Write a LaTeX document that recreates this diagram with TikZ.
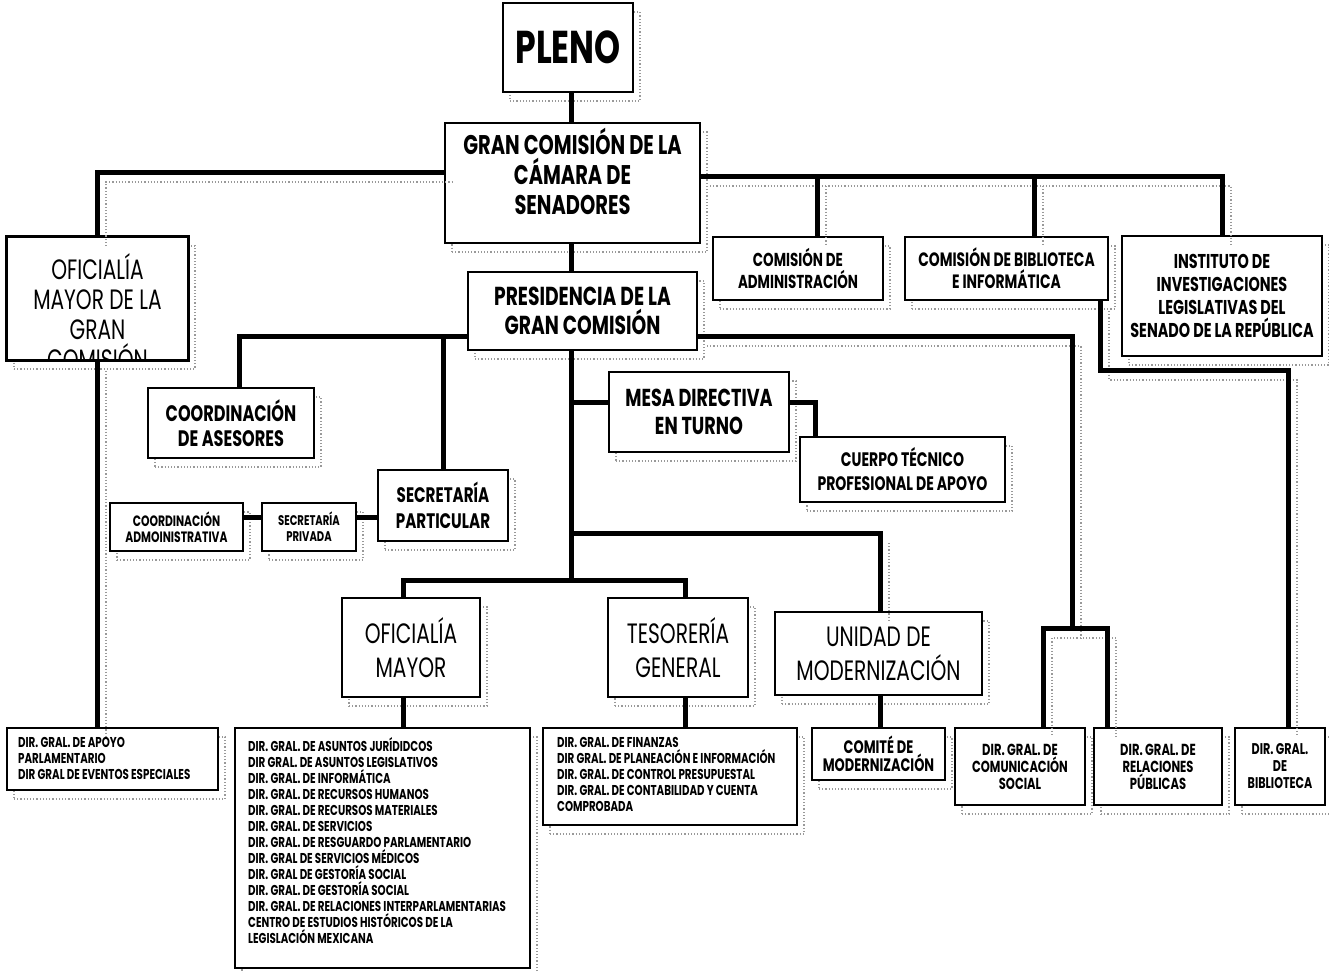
\documentclass[tikz,border=0pt]{standalone}
\usepackage{fontspec}
\setmainfont[FakeStretch=0.72]{Poppins}
\newcommand\fsz[2]{\fontsize{#1}{#2}\selectfont}
\tikzset{
  speck/.style={draw=black!40, line width=1.3pt, dash pattern=on 1.2pt off 2pt},
  box/.style={draw, line width=1.8pt, fill=white, inner sep=0pt, align=center,
    preaction={speck, fill=none, transform canvas={shift={(7pt,-9pt)}}}},
  conn/.style={line width=5pt, line join=miter},
  connshadow/.style={speck, transform canvas={shift={(9pt,-10pt)}}},
  listtext/.style={inner sep=0pt, align=left, anchor=north west, font=\bfseries\fsz{14.3}{16}},
}
\begin{document}
\begin{tikzpicture}[x=1pt,y=-1pt]
\useasboundingbox (0,0) rectangle (1329,972);
% top level
\node[box, minimum width=130, minimum height=89, font=\bfseries\fsz{46}{50}] (pleno) at (568,47.5) {PLENO};
\node[box, minimum width=255, minimum height=120, font=\bfseries\fsz{27}{30}] (gran) at (572.5,183) {GRAN COMISIÓN DE LA\\CÁMARA DE\\SENADORES\\[-6pt]};
% Oficialia mayor de la gran comision (text clipped at bottom)
\node[box, minimum width=181, minimum height=123] (omgc) at (97.5,298.5) {};
\begin{scope}
\clip (7,237) rectangle (188,359);
\node[inner sep=0pt, align=center, font=\fsz{28}{30}] (omgct) at (97.5,312) {OFICIALÍA\\MAYOR DE LA\\GRAN\\COMISIÓN};
\end{scope}
\draw[line width=1.8pt] (omgc.north west) rectangle (omgc.south east);
% commissions
\node[box, minimum width=170, minimum height=63, font=\bfseries\fsz{18.7}{22}] (adm) at (798,268.5) {COMISIÓN DE\\ADMINISTRACIÓN};
\node[box, minimum width=203, minimum height=63, font=\bfseries\fsz{19.3}{22}] (bib) at (1006.5,268.5) {COMISIÓN DE BIBLIOTECA\\E INFORMÁTICA};
\node[box, minimum width=200, minimum height=120, font=\bfseries\fsz{20}{23}] (inst) at (1222,296) {INSTITUTO DE\\INVESTIGACIONES\\LEGISLATIVAS DEL\\SENADO DE LA REPÚBLICA};
% presidencia level
\node[box, minimum width=229, minimum height=78, font=\bfseries\fsz{26}{29}] (pres) at (582.5,311) {PRESIDENCIA DE LA\\GRAN COMISIÓN};
\node[box, minimum width=166, minimum height=70, font=\bfseries\fsz{22.4}{25}] (coord) at (231,423) {COORDINACIÓN\\DE ASESORES};
\node[box, minimum width=130, minimum height=71, font=\bfseries\fsz{21}{26}] (secpart) at (443,505.5) {SECRETARÍA\\PARTICULAR};
\node[box, minimum width=94, minimum height=48, font=\bfseries\fsz{14}{16}] (secpriv) at (309,527) {SECRETARÍA\\PRIVADA};
\node[box, minimum width=133, minimum height=48, font=\bfseries\fsz{15}{16}] (coordadm) at (176.5,527) {COORDINACIÓN\\ADMOINISTRATIVA};
\node[box, minimum width=180, minimum height=80, font=\bfseries\fsz{24.5}{28}] (mesa) at (699,412) {MESA DIRECTIVA\\EN TURNO};
\node[box, minimum width=205, minimum height=65, font=\bfseries\fsz{19.5}{24}] (cuerpo) at (902.5,469.5) {CUERPO TÉCNICO\\PROFESIONAL DE APOYO};
% third level
\node[box, minimum width=138, minimum height=99, font=\fsz{28}{34}] (om) at (411,647.5) {OFICIALÍA\\MAYOR};
\node[box, minimum width=140, minimum height=99, font=\fsz{28}{34}] (teso) at (678,647.5) {TESORERÍA\\GENERAL};
\node[box, minimum width=207, minimum height=83, font=\fsz{28}{34}] (unidad) at (878.5,653.5) {UNIDAD DE\\MODERNIZACIÓN};
% bottom boxes
\node[box, minimum width=211, minimum height=62] (apoyo) at (112.5,759) {};
\node[listtext] (apoyot) at (18,737) {DIR. GRAL. DE APOYO\\PARLAMENTARIO\\DIR GRAL DE EVENTOS ESPECIALES};
\node[box, minimum width=295, minimum height=240] (omlist) at (382.5,848) {};
\node[listtext] (omlistt) at (248,737) {DIR. GRAL. DE ASUNTOS JURÍDIDCOS\\DIR GRAL. DE ASUNTOS LEGISLATIVOS\\DIR. GRAL. DE INFORMÁTICA\\DIR. GRAL. DE RECURSOS HUMANOS\\DIR. GRAL. DE RECURSOS MATERIALES\\DIR. GRAL. DE SERVICIOS\\DIR. GRAL. DE RESGUARDO PARLAMENTARIO\\DIR. GRAL DE SERVICIOS MÉDICOS\\DIR. GRAL DE GESTORÍA SOCIAL\\DIR. GRAL. DE GESTORÍA SOCIAL\\DIR. GRAL. DE RELACIONES INTERPARLAMENTARIAS\\CENTRO DE ESTUDIOS HISTÓRICOS DE LA\\LEGISLACIÓN MEXICANA};
\node[box, minimum width=254, minimum height=97] (tesolist) at (670,776.5) {};
\node[listtext] (tesolistt) at (557,737) {DIR. GRAL. DE FINANZAS\\DIR GRAL. DE PLANEACIÓN E INFORMACIÓN\\DIR. GRAL. DE CONTROL PRESUPUESTAL\\DIR. GRAL. DE CONTABILIDAD Y CUENTA\\COMPROBADA};
\node[box, minimum width=133, minimum height=52, font=\bfseries\fsz{18}{18}] (comite) at (878.5,754) {COMITÉ DE\\MODERNIZACIÓN};
\node[box, minimum width=130, minimum height=77, font=\bfseries\fsz{16}{17}] (comsoc) at (1020,766.5) {DIR. GRAL. DE\\COMUNICACIÓN\\SOCIAL};
\node[box, minimum width=128, minimum height=77, font=\bfseries\fsz{16}{17}] (relpub) at (1158,766.5) {DIR. GRAL. DE\\RELACIONES\\PÚBLICAS};
\node[box, minimum width=90, minimum height=77, font=\bfseries\fsz{15.5}{17}] (biblio) at (1280,766.5) {DIR. GRAL.\\DE\\BIBLIOTECA};
% junction coordinates
\coordinate (cx) at (571,0);
\coordinate (jL) at (97,172);
\coordinate (jR) at (1222,176);
\coordinate (xa) at (817,0);
\coordinate (xb) at (1034,0);
\coordinate (pl) at (239,336);
\coordinate (sy) at (0,517);
\coordinate (my) at (0,402);
\coordinate (mc) at (815,402);
\coordinate (uy) at (880,533);
\coordinate (oL) at (403,580);
\coordinate (oR) at (685,580);
\coordinate (pr) at (1072,336);
\coordinate (ua) at (1043,628);
\coordinate (ub) at (1107,628);
\coordinate (bx) at (1100,370);
\coordinate (by) at (1288,370);
% faint scan shadows of the main connectors
\draw[connshadow] (jL|-omgc.north) -- (jL) -- (gran.west|-jL);
\draw[connshadow] (gran.east|-jR) -- (jR) -- (jR|-inst.north);
\draw[connshadow] (xb|-jR) -- (xb|-bib.north);
\draw[connshadow] (xa|-jR) -- (xa|-adm.north);
\draw[connshadow] (pres.east|-pr) -- (pr) -- (pr|-ua);
\draw[connshadow] (bx|-bib.south) -- (bx) -- (by) -- (by|-biblio.north);
\draw[connshadow] (ub|-relpub.north) -- (ub) -- (ua) -- (ua|-comsoc.north);
\draw[connshadow] (jL|-omgc.south) -- (jL|-apoyo.north);
\draw[connshadow] (uy) -- (uy|-unidad.north);
% connectors
\draw[conn] (pleno.south-|cx) -- (gran.north-|cx);
\draw[conn] (gran.west|-jL) -- (jL) -- (jL|-omgc.north);
\draw[conn] (gran.east|-jR) -- (jR) -- (jR|-inst.north);
\draw[conn] (xa|-jR) -- (xa|-adm.north);
\draw[conn] (xb|-jR) -- (xb|-bib.north);
\draw[conn] (gran.south-|cx) -- (pres.north-|cx);
\draw[conn] (pres.west|-pl) -- (pl) -- (pl|-coord.north);
\draw[conn] (secpart.north) -- (secpart.north|-pl);
\draw[conn] (secpart.west|-sy) -- (secpriv.east|-sy);
\draw[conn] (secpriv.west|-sy) -- (coordadm.east|-sy);
\draw[conn] (pres.south-|cx) -- (cx|-oL);
\draw[conn] (oL|-om.north) -- (oL) -- (oR) -- (oR|-teso.north);
\draw[conn] (cx|-my) -- (mesa.west|-my);
\draw[conn] (mesa.east|-my) -- (mc) -- (mc|-cuerpo.north);
\draw[conn] (cx|-uy) -- (uy) -- (uy|-unidad.north);
\draw[conn] (oL|-om.south) -- (oL|-omlist.north);
\draw[conn] (oR|-teso.south) -- (oR|-tesolist.north);
\draw[conn] (uy|-unidad.south) -- (uy|-comite.north);
\draw[conn] (jL|-omgc.south) -- (jL|-apoyo.north);
\draw[conn] (pres.east|-pr) -- (pr) -- (pr|-ua);
\draw[conn] (ua|-comsoc.north) -- (ua) -- (ub) -- (ub|-relpub.north);
\draw[conn] (bx|-bib.south) -- (bx) -- (by) -- (by|-biblio.north);
\end{tikzpicture}
\end{document}
